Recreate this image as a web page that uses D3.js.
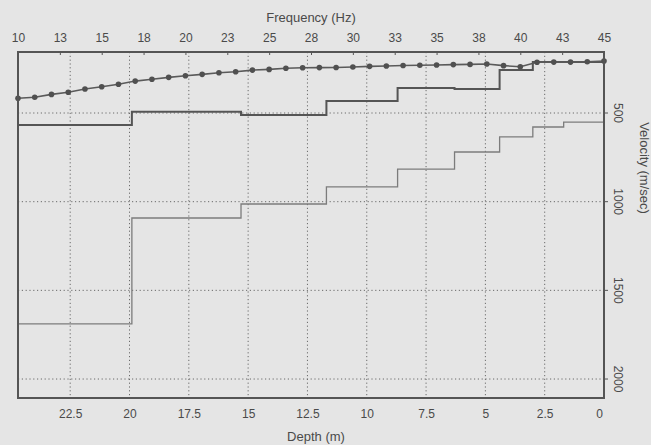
<!DOCTYPE html>
<html>
<head>
<meta charset="utf-8">
<script src="https://cdn.jsdelivr.net/npm/d3@7"></script>
<style>
    body { margin: 0; background: #e5e5e5; }
    svg { display: block; font-family: 'Liberation Sans', Arial, sans-serif; }
    .tick text { fill: #4a4a4a; font-size: 12px; }
    .grid line { stroke: #6a6a6a; stroke-dasharray: 1.2, 2.6; }
</style>
</head>
<body>
<div id="chart"></div>
<script>
// dispersion curve: phase velocity (m/sec) per frequency (Hz)
const freqs = d3.range(10, 46);
const phaseVel = [417, 411, 395, 383, 365, 352, 338, 320, 310, 299,
                  290, 282, 273, 267, 258, 254, 248, 245, 244, 243,
                  241, 237, 235, 232, 231, 229, 227, 226, 224, 233,
                  239, 214, 213, 213, 211, 207];

// layered model: layer boundaries (m) and velocities per layer
const layerDepths = [0, 1.7, 3.0, 4.4, 6.3, 8.7, 11.7, 15.3, 19.9, 24.7];
const vsLayers = [213, 213, 258, 365, 359, 432, 511, 493, 568];
const vpLayers = [551, 579, 635, 720, 816, 917, 1013, 1092, 1689];

const freqTicks = d3.range(10, 45.1, 2.5);
const depthTicks = d3.range(0, 22.6, 2.5);
const velTicks = [500, 1000, 1500, 2000];

const W = 651, H = 445;
const margin = { top: 52, right: 47, bottom: 47, left: 18 };
const width = W - margin.left - margin.right;
const height = H - margin.top - margin.bottom;

const svg = d3.select('#chart')
    .append('svg')
    .attr('width', W)
    .attr('height', H);

svg.append('rect')
    .attr('width', W)
    .attr('height', H)
    .attr('fill', '#e5e5e5');

const g = svg.append('g')
    .attr('transform', 'translate(' + margin.left + ',' + margin.top + ')');

const xf = d3.scaleLinear().domain([10, 45]).range([0, width]);
const xd = d3.scaleLinear().domain([24.7, 0]).range([0, width]);
const y = d3.scaleLinear().domain([156, 2107]).range([0, height]);

// grid
g.append('g')
    .attr('class', 'grid')
    .selectAll('line')
    .data(depthTicks.filter(function(d) { return d > 0; }))
    .enter()
    .append('line')
    .attr('x1', function(d) { return xd(d); })
    .attr('x2', function(d) { return xd(d); })
    .attr('y1', 0)
    .attr('y2', height);

g.append('g')
    .attr('class', 'grid')
    .selectAll('line')
    .data(velTicks)
    .enter()
    .append('line')
    .attr('x1', 0)
    .attr('x2', width)
    .attr('y1', function(d) { return y(d); })
    .attr('y2', function(d) { return y(d); });

// step profiles
function stepPoints(vals) {
    const pts = [];
    vals.forEach(function(v, i) {
        pts.push([layerDepths[i], v]);
        pts.push([layerDepths[i + 1], v]);
    });
    return pts;
}

const stepLine = d3.line()
    .x(function(d) { return xd(d[0]); })
    .y(function(d) { return y(d[1]); });

g.append('path')
    .datum(stepPoints(vpLayers))
    .attr('fill', 'none')
    .attr('stroke', '#7c7c7c')
    .attr('stroke-width', 1.3)
    .attr('d', stepLine);

g.append('path')
    .datum(stepPoints(vsLayers))
    .attr('fill', 'none')
    .attr('stroke', '#555')
    .attr('stroke-width', 2)
    .attr('d', stepLine);

// dispersion curve
const disp = freqs.map(function(f, i) { return { f: f, v: phaseVel[i] }; });

g.append('path')
    .datum(disp)
    .attr('fill', 'none')
    .attr('stroke', '#5a5a5a')
    .attr('stroke-width', 1.6)
    .attr('d', d3.line()
        .x(function(d) { return xf(d.f); })
        .y(function(d) { return y(d.v); }));

g.selectAll('.dot')
    .data(disp)
    .enter()
    .append('circle')
    .attr('class', 'dot')
    .attr('cx', function(d) { return xf(d.f); })
    .attr('cy', function(d) { return y(d.v); })
    .attr('r', 2.8)
    .attr('fill', '#505050');

// axes
const topAxis = g.append('g')
    .call(d3.axisTop(xf)
        .tickValues(freqTicks)
        .tickSize(-3)
        .tickPadding(10)
        .tickFormat(function(d) { return Math.round(d); }));
topAxis.select('.domain').remove();
topAxis.selectAll('.tick line').attr('stroke', '#555');

const bottomAxis = g.append('g')
    .attr('transform', 'translate(0,' + height + ')')
    .call(d3.axisBottom(xd)
        .tickValues(depthTicks)
        .tickSize(0)
        .tickPadding(11)
        .tickFormat(function(d) { return d; }));
bottomAxis.select('.domain').remove();
bottomAxis.selectAll('.tick')
    .filter(function(d) { return d === 0; })
    .select('text')
    .attr('dx', -5);

const rightAxis = g.append('g')
    .attr('transform', 'translate(' + width + ',0)');

rightAxis.selectAll('line')
    .data(velTicks)
    .enter()
    .append('line')
    .attr('x1', 0)
    .attr('x2', 4)
    .attr('y1', function(d) { return y(d); })
    .attr('y2', function(d) { return y(d); })
    .attr('stroke', '#555');

rightAxis.selectAll('text')
    .data(velTicks)
    .enter()
    .append('text')
    .attr('transform', function(d) { return 'translate(14,' + y(d) + ') rotate(90)'; })
    .attr('text-anchor', 'middle')
    .attr('dy', '0.35em')
    .attr('fill', '#4a4a4a')
    .style('font-size', '12px')
    .text(function(d) { return d; });

// frame
g.append('rect')
    .attr('width', width)
    .attr('height', height)
    .attr('fill', 'none')
    .attr('stroke', '#555')
    .attr('stroke-width', 2);

// titles
svg.append('text')
    .attr('x', 311)
    .attr('y', 22)
    .attr('text-anchor', 'middle')
    .attr('fill', '#4a4a4a')
    .style('font-size', '13px')
    .text('Frequency (Hz)');

svg.append('text')
    .attr('x', 316)
    .attr('y', 441)
    .attr('text-anchor', 'middle')
    .attr('fill', '#4a4a4a')
    .style('font-size', '13px')
    .text('Depth (m)');

svg.append('text')
    .attr('transform', 'translate(645,168) rotate(90)')
    .attr('text-anchor', 'middle')
    .attr('dy', '0.35em')
    .attr('fill', '#4a4a4a')
    .style('font-size', '13px')
    .text('Velocity (m/sec)');
</script>
</body>
</html>
